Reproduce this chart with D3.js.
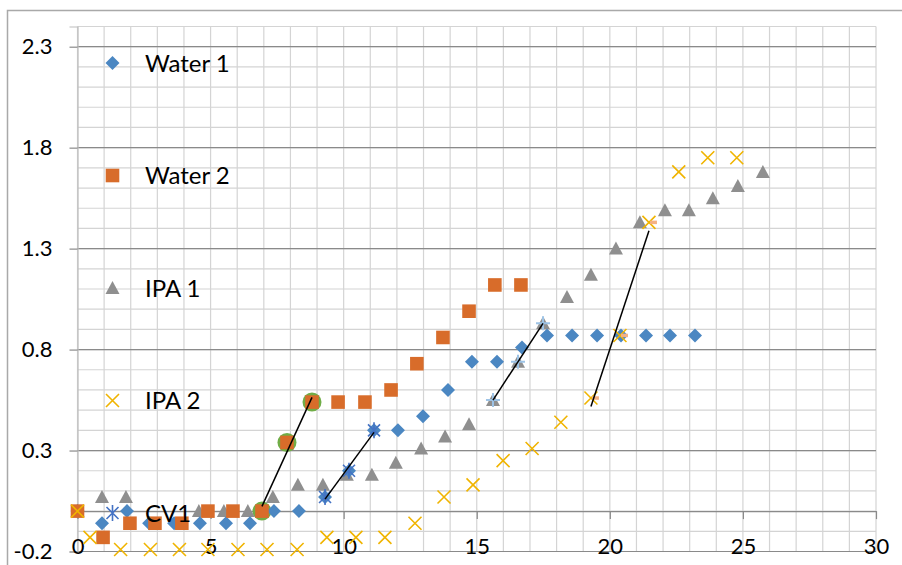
<html>
    <head>
        <meta charset="utf-8">
        <style>
            body { margin: 0; background: #ffffff; }
            .chart text {
                fill: #000000;
                font-family: Lato, "Liberation Sans", Arial, sans-serif;
            }
        </style>
    </head>
    <body>
        <svg class="chart"></svg>
        <script src="https://d3js.org/d3.v7.min.js"></script>
        <script>
            // values
            var water1X = [0, 0.92, 1.86, 2.69, 3.63, 4.60, 5.58, 6.48, 7.38, 8.32, 9.30, 10.20, 11.14, 12.04, 12.98, 13.92, 14.82, 15.76, 16.70, 17.64, 18.58, 19.52, 20.42, 21.36, 22.26, 23.20];
            var water1Y = [0, -0.06, 0, -0.06, -0.06, -0.06, -0.06, -0.06, 0, 0, 0.07, 0.2, 0.4, 0.4, 0.47, 0.6, 0.74, 0.74, 0.81, 0.87, 0.87, 0.87, 0.87, 0.87, 0.87, 0.87];

            var water2X = [0, 0.96, 1.97, 2.91, 3.92, 4.90, 5.84, 6.93, 7.87, 8.81, 9.79, 10.80, 11.78, 12.75, 13.73, 14.71, 15.68, 16.66];
            var water2Y = [0, -0.13, -0.06, -0.06, -0.06, 0, 0, 0, 0.34, 0.54, 0.54, 0.54, 0.6, 0.73, 0.86, 0.99, 1.12, 1.12];

            var ipa1X = [0, 0.92, 1.82, 4.56, 5.50, 6.40, 7.34, 8.28, 9.22, 10.12, 11.06, 11.96, 12.91, 13.81, 14.71, 15.61, 16.55, 17.49, 18.39, 19.29, 20.23, 21.13, 22.07, 22.97, 23.87, 24.81, 25.75];
            var ipa1Y = [0, 0.07, 0.07, 0, 0, 0, 0.07, 0.13, 0.13, 0.18, 0.18, 0.24, 0.31, 0.37, 0.43, 0.55, 0.74, 0.93, 1.06, 1.17, 1.3, 1.43, 1.49, 1.49, 1.55, 1.61, 1.68];

            var ipa2X = [0, 0.47, 1.62, 2.74, 3.83, 4.90, 6.03, 7.12, 8.25, 9.37, 10.46, 11.55, 12.68, 13.77, 14.86, 15.99, 17.08, 18.16, 19.29, 20.38, 21.47, 22.59, 23.68, 24.77];
            var ipa2Y = [0, -0.13, -0.19, -0.19, -0.19, -0.19, -0.19, -0.19, -0.19, -0.13, -0.13, -0.13, -0.06, 0.07, 0.13, 0.25, 0.31, 0.44, 0.56, 0.87, 1.43, 1.68, 1.75, 1.75];

            // the three points picked out on each curve
            var cvWater2X = [6.93, 7.87, 8.81];
            var cvWater2Y = [0, 0.34, 0.54];
            var cv1X = [9.30, 10.20, 11.14];
            var cv1Y = [0.07, 0.2, 0.4];
            var cvIpa1X = [15.61, 16.55, 17.49];
            var cvIpa1Y = [0.55, 0.74, 0.93];
            var cvIpa2X = [19.29, 20.38, 21.47];
            var cvIpa2Y = [0.56, 0.87, 1.43];

            var xTicks = [0, 5, 10, 15, 20, 25, 30];
            var yTicks = [-0.2, 0.3, 0.8, 1.3, 1.8, 2.3];
            var legendNames = ['Water 1', 'Water 2', 'IPA 1', 'IPA 2', 'CV1'];

            var width = 902, height = 565;
            var plotLeft = 77.5, plotRight = 876, plotTop = 26.5, plotBottom = 551.5;

            var svg = d3.select('.chart')
                .attr('width', width)
                .attr('height', height);

            var x = d3.scaleLinear().domain([0, 30]).range([plotLeft, plotRight]);
            var y = d3.scaleLinear().domain([-0.2, 2.4]).range([plotBottom, plotTop]);

            // outer chart border (runs off the picture)
            svg.append('rect')
                .attr('x', 7.5).attr('y', 10.5)
                .attr('width', 910).attr('height', 580)
                .attr('fill', 'none')
                .attr('stroke', '#a9a9a9')
                .attr('stroke-width', 1.5);

            // minor grid
            var grid = svg.append('g');
            grid.selectAll('.vx').data(d3.range(0, 31))
                .enter().append('line')
                .attr('x1', function(d) { return x(d); })
                .attr('x2', function(d) { return x(d); })
                .attr('y1', plotTop).attr('y2', plotBottom)
                .attr('stroke', '#d4d4d4').attr('stroke-width', 1.2);
            grid.selectAll('.hy').data(d3.range(0, 27))
                .enter().append('line')
                .attr('x1', plotLeft).attr('x2', plotRight)
                .attr('y1', function(i) { return y(-0.2 + i * 0.1); })
                .attr('y2', function(i) { return y(-0.2 + i * 0.1); })
                .attr('stroke', '#d4d4d4').attr('stroke-width', 1.2);
            // major horizontal grid
            grid.selectAll('.hm').data(yTicks)
                .enter().append('line')
                .attr('x1', plotLeft).attr('x2', plotRight)
                .attr('y1', function(d) { return y(d); })
                .attr('y2', function(d) { return y(d); })
                .attr('stroke', '#8a8a8a').attr('stroke-width', 1.2);

            // y axis
            var yAxis = svg.append('g')
                .attr('transform', 'translate(' + plotLeft + ',0)')
                .call(d3.axisLeft(y).tickValues(yTicks).tickSize(8).tickPadding(17)
                    .tickFormat(function(d) { return d.toFixed(1); }));
            yAxis.select('.domain').attr('stroke', '#bdbdbd').attr('stroke-width', 1.2);
            yAxis.selectAll('.tick line').attr('stroke', '#8a8a8a').attr('stroke-width', 1.2);
            yAxis.selectAll('text').attr('font-size', 22).attr('fill', '#000');

            // x axis crossing at zero, labels sit at the bottom
            var xAxis = svg.append('g')
                .attr('transform', 'translate(0,' + y(0) + ')')
                .call(d3.axisBottom(x).tickValues(xTicks).tickSize(8).tickSizeOuter(0));
            xAxis.select('.domain').attr('stroke', '#8a8a8a').attr('stroke-width', 1.2);
            xAxis.selectAll('.tick line').attr('stroke', '#8a8a8a').attr('stroke-width', 1.2);
            xAxis.selectAll('text')
                .attr('font-size', 22).attr('fill', '#000')
                .attr('y', plotBottom - 5 - y(0)).attr('dy', '0.35em');

            function pts(xs, ys) {
                return xs.map(function(v, i) { return [v, ys[i]]; });
            }

            var diamond = 'M0,-7L7,0L0,7L-7,0Z';
            var square = 'M-6.8,-6.8H6.8V6.8H-6.8Z';
            var triangle = 'M0,-7L7,6L-7,6Z';
            var cross = 'M-6.5,-6.5L6.5,6.5M-6.5,6.5L6.5,-6.5';
            var star = 'M-6,-6L6,6M-6,6L6,-6M0,-8V8';
            var plus = 'M-7,0H7M0,-7V7';

            function drawSeries(data, path, fill, stroke, sw) {
                svg.append('g').selectAll('path').data(data)
                    .enter().append('path')
                    .attr('transform', function(d) { return 'translate(' + x(d[0]) + ',' + y(d[1]) + ')'; })
                    .attr('d', path)
                    .attr('fill', fill)
                    .attr('stroke', stroke)
                    .attr('stroke-width', sw);
            }

            // highlighted circles under the Water 2 squares
            svg.append('g').selectAll('circle').data(pts(cvWater2X, cvWater2Y))
                .enter().append('circle')
                .attr('cx', function(d) { return x(d[0]); })
                .attr('cy', function(d) { return y(d[1]); })
                .attr('r', 9.5)
                .attr('fill', '#70ad47');

            drawSeries(pts(ipa1X, ipa1Y), triangle, '#8f8f8f', 'none', 0);
            drawSeries(pts(water1X, water1Y), diamond, '#4b87c2', 'none', 0);
            drawSeries(pts(water2X, water2Y), square, '#d86c2a', 'none', 0);
            drawSeries(pts(ipa2X, ipa2Y), cross, 'none', '#f0b400', 1.6);
            drawSeries(pts(cv1X, cv1Y), star, 'none', '#4472c4', 1.6);
            drawSeries(pts(cvIpa1X, cvIpa1Y), plus, 'none', '#9dc3e6', 2);
            drawSeries(pts(cvIpa2X, cvIpa2Y), 'M1,0H8', 'none', '#f4b183', 3.5);

            // linear trend line through each set of picked points
            var trendSets = [[cvWater2X, cvWater2Y], [cv1X, cv1Y], [cvIpa1X, cvIpa1Y], [cvIpa2X, cvIpa2Y]];
            trendSets.forEach(function(s) {
                var mx = d3.mean(s[0]), my = d3.mean(s[1]);
                var sxy = d3.sum(s[0], function(v, i) { return (v - mx) * (s[1][i] - my); });
                var sxx = d3.sum(s[0], function(v) { return (v - mx) * (v - mx); });
                var k = sxy / sxx;
                var x0 = d3.min(s[0]), x1 = d3.max(s[0]);
                svg.append('line')
                    .attr('x1', x(x0)).attr('y1', y(my + k * (x0 - mx)))
                    .attr('x2', x(x1)).attr('y2', y(my + k * (x1 - mx)))
                    .attr('stroke', '#000').attr('stroke-width', 1.5);
            });

            // legend down the left of the plot
            var ly = d3.scalePoint().domain(legendNames).range([63, 513]);
            var legendShapes = [
                { d: diamond, fill: '#4b87c2', stroke: 'none', sw: 0 },
                { d: square, fill: '#d86c2a', stroke: 'none', sw: 0 },
                { d: triangle, fill: '#8f8f8f', stroke: 'none', sw: 0 },
                { d: cross, fill: 'none', stroke: '#f0b400', sw: 1.6 },
                { d: star, fill: 'none', stroke: '#4472c4', sw: 1.6 }
            ];
            var legend = svg.append('g').selectAll('g').data(legendNames)
                .enter().append('g')
                .attr('transform', function(d) { return 'translate(0,' + ly(d) + ')'; });
            legend.append('path')
                .attr('transform', 'translate(112.5,0)')
                .attr('d', function(d, i) { return legendShapes[i].d; })
                .attr('fill', function(d, i) { return legendShapes[i].fill; })
                .attr('stroke', function(d, i) { return legendShapes[i].stroke; })
                .attr('stroke-width', function(d, i) { return legendShapes[i].sw; });
            legend.append('text')
                .attr('x', 145)
                .attr('dy', '0.36em')
                .attr('font-size', 24)
                .text(function(d) { return d; });
        </script>
    </body>
</html>
